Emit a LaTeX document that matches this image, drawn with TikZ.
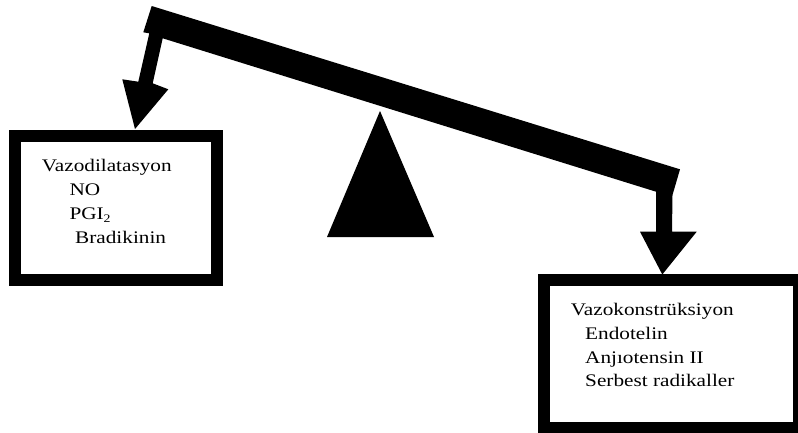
\documentclass[tikz,border=0pt]{standalone}
\usepackage{graphicx}
\usepackage{fontspec}
\setmainfont{Liberation Serif}
\newcommand{\wide}[1]{{\fontsize{17.7}{20}\selectfont\scalebox{1.2}[1]{#1}}}
\begin{document}
\begin{tikzpicture}[x=1pt,y=-1pt,
  box/.style={draw=black,line width=12pt,fill=white,rectangle,inner sep=0pt,outer sep=0pt},
  lbl/.style={anchor=base west,inner sep=0pt},
  solid black/.style={fill=black,draw=none}]
\useasboundingbox (0,0) rectangle (798,432);
\clip (0,0) rectangle (798,432);
% boxes
\node[box,minimum width=202pt,minimum height=143.7pt] (lbox) at (116.3,207.85) {};
\node[box,minimum width=255.2pt,minimum height=147.7pt] (rbox) at (671.1,353.85) {};
% fulcrum
\coordinate (apex) at (380,111);
\coordinate (bl) at (327,237);
\coordinate (br) at (434,237);
\fill[solid black] (apex) -- (bl) -- (br) -- cycle;
% beam with the two arrows
\coordinate (ltip) at (135,129);
\coordinate (rtip) at (662.3,274.5);
\fill[solid black]
  (151.7,6) -- (680,169.3) -- (672.5,195) -- (672,231.7) -- (696.7,231.7)
  -- (rtip) -- (640,231.7) -- (656,231.7) -- (656,191.7)
  -- (162.7,38.3) -- (152.7,83.3) -- (168.3,89.3) -- (ltip)
  -- (122.3,79.3) -- (138.3,81.7) -- (149.3,33.3) -- (143.3,32.3) -- cycle;
% texts
\node[lbl] (l1) at (41.7,171) {\wide{Vazodilatasyon}};
\node[lbl] (l2) at (69.3,195) {\wide{NO}};
\node[lbl] (l3) at (69.3,219) {\wide{PGI\raisebox{-3.5pt}{\fontsize{11.5}{12}\selectfont 2}}};
\node[lbl] (l4) at (75,243.3) {\wide{Bradikinin}};
\node[lbl] (r1) at (570.7,315) {\wide{Vazokonstrüksiyon}};
\node[lbl] (r2) at (585,339.3) {\wide{Endotelin}};
\node[lbl] (r3) at (585,363.3) {\wide{Anjıotensin II}};
\node[lbl] (r4) at (585,386.7) {\wide{Serbest radikaller}};
\end{tikzpicture}
\end{document}
